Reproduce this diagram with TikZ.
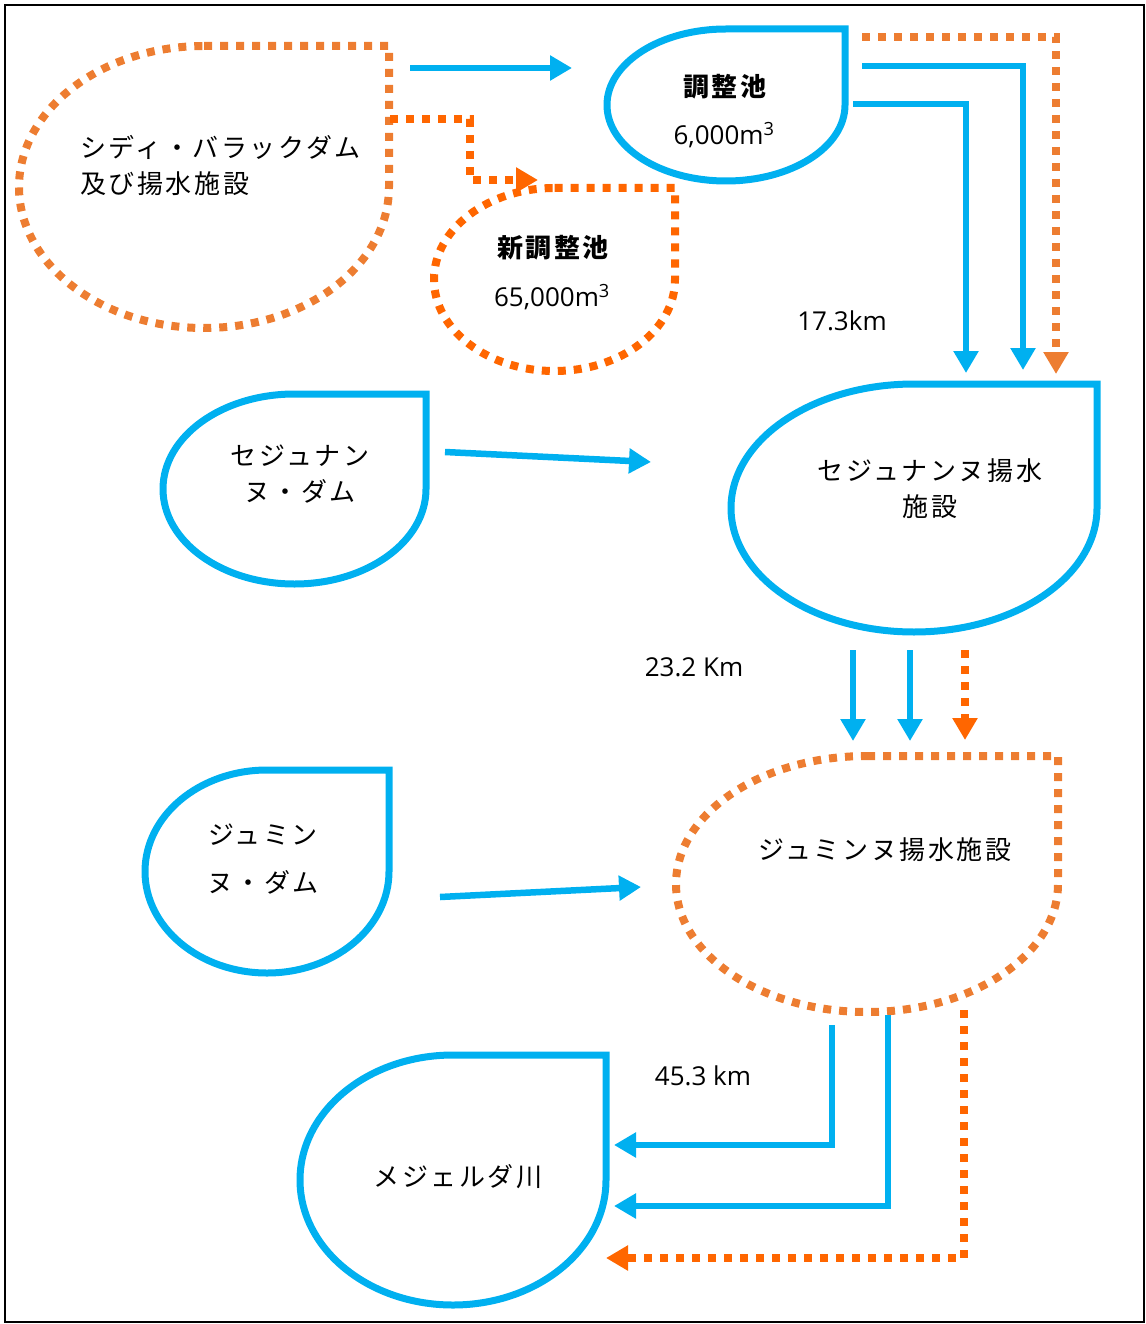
\documentclass[tikz,border=0pt]{standalone}
\usepackage{fontspec}
\setmainfont{Noto Sans CJK JP}
\newfontfamily\jpf[LetterSpace=10]{Noto Sans CJK JP}
\newfontfamily\numf{Open Sans}
\usetikzlibrary{arrows.meta}
\definecolor{cblue}{HTML}{00B0F0}
\definecolor{corA}{HTML}{ED7D31}
\definecolor{corB}{HTML}{FF6600}
\newcommand\tdrop[5]{\draw[#1] ({#2},{-(#3)+(#5)}) -- ({#2+#4},{-(#3)+(#5)}) -- ({#2+#4},{-(#3)}) arc[start angle=0,end angle=-270,x radius=#4pt,y radius=#5pt] -- cycle;}
\tikzset{
  bshape/.style={draw=cblue,line width=7pt},
  oshape/.style={draw=#1,line width=8pt,dash pattern=on 8pt off 8pt},
  barrow/.style={draw=cblue,line width=6.5pt,-{Triangle[length=22pt,width=24pt]}},
  oarrow/.style={draw=#1,line width=8pt,dash pattern=on 8pt off 8pt,-{Triangle[length=22pt,width=24pt]}},
  jp/.style={font=\jpf\fontsize{26}{36}\selectfont,align=center,inner sep=0pt},
  num/.style={font=\numf\fontsize{26}{30}\selectfont,inner sep=0pt},
}
\begin{document}
\begin{tikzpicture}[x=1pt,y=1pt]
\useasboundingbox (0,0) rectangle (1145,-1324);
\draw[line width=2pt] (5,-5) rectangle (1144,-1322);
% shapes
\tdrop{oshape=corA}{204}{187}{185}{141}
\tdrop{bshape}{726}{105}{119}{76}
\tdrop{oshape=corB}{554.5}{279.5}{120.5}{91.5}
\tdrop{bshape}{914}{508}{183}{124}
\tdrop{bshape}{294.5}{489}{131.5}{95}
\tdrop{oshape=corA}{867}{884}{191}{128}
\tdrop{bshape}{267}{871.5}{122}{101.5}
\tdrop{bshape}{453}{1180}{153}{125}
% texts
\node[jp,align=left,anchor=west] (sidiT) at (80,-165) {シディ・バラックダム\\及び揚水施設};
\node[jp,font=\jpf\bfseries\fontsize{26}{36}\selectfont] (choT) at (725,-87) {調整池};
\node[num] (choV) at (724,-135) {6,000m\textsuperscript{3}};
\node[jp,font=\jpf\bfseries\fontsize{26}{36}\selectfont] (shinT) at (553,-248) {新調整池};
\node[num] (shinV) at (552,-297) {65,000m\textsuperscript{3}};
\node[jp] (sejT) at (930,-489) {セジュナンヌ揚水\\施設};
\node[jp] (sejdT) at (300,-474) {セジュナン\\ヌ・ダム};
\node[jp] (jumT) at (885,-850) {ジュミンヌ揚水施設};
\node[jp,font=\jpf\fontsize{26}{48}\selectfont] (jumdT) at (263,-859) {ジュミン\\ヌ・ダム};
\node[jp] (medT) at (458,-1177) {メジェルダ川};
\node[num] (l1) at (842,-321) {17.3km};
\node[num] (l2) at (694,-667) {23.2 Km};
\node[num] (l3) at (703,-1076) {45.3 km};
% connector coordinates
\coordinate (a1s) at (410,-68);  \coordinate (a1e) at (572,-68);
\coordinate (a2s) at (390,-119); \coordinate (a2e) at (538,-180);
\coordinate (a3s) at (862,-37);  \coordinate (a3e) at (1056,-374);
\coordinate (a4s) at (862,-66);  \coordinate (a4e) at (1023,-370);
\coordinate (a5s) at (853,-104); \coordinate (a5e) at (966,-373);
\coordinate (a6s) at (445,-452); \coordinate (a6e) at (651,-462);
\coordinate (a7s) at (853,-650); \coordinate (a7e) at (853,-741);
\coordinate (a8s) at (910,-650); \coordinate (a8e) at (910,-741);
\coordinate (a9s) at (965,-650); \coordinate (a9e) at (965,-740);
\coordinate (a10s) at (440,-897); \coordinate (a10e) at (641,-887);
\coordinate (a11s) at (832,-1025); \coordinate (a11e) at (614,-1145);
\coordinate (a12s) at (888,-1015); \coordinate (a12e) at (614,-1206);
\coordinate (a13s) at (964,-1010); \coordinate (a13e) at (606,-1258);
% connectors
\draw[barrow] (a1s) -- (a1e);
\draw[oarrow=corB] (a2s) -- (470,-119) -- (470,-180) -- (a2e);
\draw[oarrow=corA] (a3s) -| (a3e);
\draw[barrow] (a4s) -| (a4e);
\draw[barrow] (a5s) -| (a5e);
\draw[barrow] (a6s) -- (a6e);
\draw[barrow] (a7s) -- (a7e);
\draw[barrow] (a8s) -- (a8e);
\draw[oarrow=corB] (a9s) -- (a9e);
\draw[barrow] (a10s) -- (a10e);
\draw[barrow] (a11s) |- (a11e);
\draw[barrow] (a12s) |- (a12e);
\draw[oarrow=corB] (a13s) |- (a13e);
\end{tikzpicture}
\end{document}
